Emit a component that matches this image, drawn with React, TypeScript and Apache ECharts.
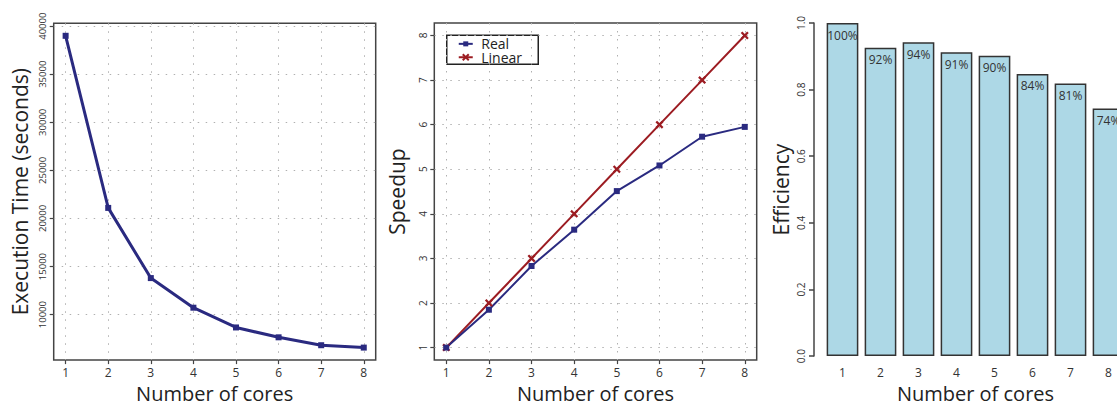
import React, { useEffect, useRef } from "react";
import * as echarts from "echarts";

// ---- data ----
const cores = ["1", "2", "3", "4", "5", "6", "7", "8"];
const coreValues = [1, 2, 3, 4, 5, 6, 7, 8];
const execTime = [39000, 21100, 13800, 10720, 8665, 7640, 6817, 6570];
const speedupReal = [1, 1.85, 2.83, 3.645, 4.51, 5.085, 5.73, 5.95];
const speedupLinear = [1, 2, 3, 4, 5, 6, 7, 8];
const efficiency = [1.0, 0.926, 0.942, 0.912, 0.902, 0.847, 0.818, 0.743];
const efficiencyLabels = ["100%", "92%", "94%", "91%", "90%", "84%", "81%", "74%"];
const timeTicks = [10000, 15000, 20000, 25000, 30000, 35000, 40000];
const speedTicks = [1, 2, 3, 4, 5, 6, 7, 8];

const FONT = "'Open Sans', 'DejaVu Sans', sans-serif";
const NAVY = "#2a2a80";
const RED = "#9c1c22";
const BOX = "#444";
const GRIDLINE = { show: true, lineStyle: { color: "#b0b0b0", width: 1, type: [1.5, 6.5] } };
const X_SYMBOL = "path://M0,2L2,0L5,3L8,0L10,2L7,5L10,8L8,10L5,7L2,10L0,8L3,5Z";

function valueXAxis(gridIndex: number) {
  return {
    type: "value",
    gridIndex,
    min: 0.72,
    max: 8.28,
    axisLine: { show: false },
    axisTick: { show: true, length: 4, customValues: coreValues, lineStyle: { color: BOX, width: 1.2 } },
    axisLabel: {
      customValues: coreValues,
      fontSize: 12,
      color: "#333",
      margin: 6,
      formatter: (v: number) => String(v),
    },
    splitLine: GRIDLINE,
    name: "Number of cores",
    nameLocation: "middle",
    nameGap: 21,
    nameTextStyle: { fontSize: 20, color: "#222" },
  };
}

export default function App() {
  const ref = useRef<HTMLDivElement>(null);
  useEffect(() => {
    if (!ref.current) return;
    const chart = echarts.init(ref.current, null, { renderer: "svg" });
    const option: any = {
      animation: false,
      backgroundColor: "#fff",
      textStyle: { fontFamily: FONT },
      grid: [
        { left: 53.7, top: 23.3, width: 322, height: 341, show: true, borderColor: BOX, borderWidth: 1.5, backgroundColor: "transparent" },
        { left: 434.3, top: 23, width: 322.4, height: 341, show: true, borderColor: BOX, borderWidth: 1.5, backgroundColor: "transparent" },
        { left: 823.5, top: 23, width: 304, height: 338 },
      ],
      xAxis: [
        valueXAxis(0),
        valueXAxis(1),
        {
          type: "category",
          gridIndex: 2,
          data: cores,
          axisLine: { show: false },
          axisTick: { show: false },
          axisLabel: { fontSize: 12, color: "#333", margin: 10 },
          name: "Number of cores",
          nameLocation: "middle",
          nameGap: 25,
          nameTextStyle: { fontSize: 20, color: "#222" },
        },
      ],
      yAxis: [
        {
          type: "value",
          gridIndex: 0,
          min: 5270,
          max: 40300,
          axisLine: { show: false },
          axisTick: { show: true, length: 4, customValues: timeTicks, lineStyle: { color: BOX, width: 1.2 } },
          axisLabel: {
            customValues: timeTicks,
            rotate: 90,
            fontSize: 9.5,
            color: "#333",
            margin: 6,
            formatter: (v: number) => String(v),
          },
          splitLine: GRIDLINE,
          name: "Execution Time (seconds)",
          nameLocation: "middle",
          nameGap: 23,
          nameTextStyle: { fontSize: 21, color: "#222" },
        },
        {
          type: "value",
          gridIndex: 1,
          min: 0.72,
          max: 8.28,
          axisLine: { show: false },
          axisTick: { show: true, length: 4, customValues: speedTicks, lineStyle: { color: BOX, width: 1.2 } },
          axisLabel: {
            customValues: speedTicks,
            rotate: 90,
            fontSize: 10,
            color: "#333",
            margin: 6,
            formatter: (v: number) => String(v),
          },
          splitLine: GRIDLINE,
          name: "Speedup",
          nameLocation: "middle",
          nameGap: 27,
          nameTextStyle: { fontSize: 21, color: "#222" },
        },
        {
          type: "value",
          gridIndex: 2,
          min: 0,
          max: 1,
          interval: 0.2,
          offset: 9.5,
          axisLine: { show: true, lineStyle: { color: BOX, width: 1.5 } },
          axisTick: { show: true, length: 5, lineStyle: { color: BOX, width: 1.5 } },
          axisLabel: {
            rotate: 90,
            fontSize: 10,
            color: "#333",
            margin: 8,
            formatter: (v: number) => v.toFixed(1),
          },
          splitLine: { show: false },
          name: "Efficiency",
          nameLocation: "middle",
          nameGap: 23,
          nameTextStyle: { fontSize: 21, color: "#222" },
        },
      ],
      series: [
        {
          type: "line",
          xAxisIndex: 0,
          yAxisIndex: 0,
          data: coreValues.map((c, i) => [c, execTime[i]]),
          lineStyle: { color: NAVY, width: 3 },
          itemStyle: { color: NAVY },
          symbol: "rect",
          symbolSize: 6,
        },
        {
          type: "line",
          name: "Linear",
          xAxisIndex: 1,
          yAxisIndex: 1,
          data: coreValues.map((c, i) => [c, speedupLinear[i]]),
          lineStyle: { color: RED, width: 2 },
          itemStyle: { color: RED },
          symbol: X_SYMBOL,
          symbolSize: 8,
        },
        {
          type: "line",
          name: "Real",
          xAxisIndex: 1,
          yAxisIndex: 1,
          data: coreValues.map((c, i) => [c, speedupReal[i]]),
          lineStyle: { color: NAVY, width: 2 },
          itemStyle: { color: NAVY },
          symbol: "rect",
          symbolSize: 6,
        },
        {
          type: "bar",
          xAxisIndex: 2,
          yAxisIndex: 2,
          data: efficiency,
          barCategoryGap: "16.6%",
          itemStyle: { color: "#add8e6", borderColor: "#333", borderWidth: 1.5 },
          label: {
            show: true,
            position: "insideTop",
            distance: 6,
            fontSize: 12,
            color: "#333",
            formatter: (p: any) => efficiencyLabels[p.dataIndex],
          },
        },
      ],
      graphic: [
        {
          type: "group",
          left: 446,
          top: 34.5,
          z: 100,
          children: [
            { type: "rect", shape: { x: 0, y: 0, width: 91.5, height: 29 }, style: { fill: "#fff", stroke: "#222", lineWidth: 1.5 } },
            { type: "line", shape: { x1: 12, y1: 8.6, x2: 26, y2: 8.6 }, style: { stroke: NAVY, lineWidth: 2 } },
            { type: "rect", shape: { x: 16.5, y: 6.1, width: 5, height: 5 }, style: { fill: NAVY } },
            { type: "text", style: { x: 34.5, y: 8.6, text: "Real", fontSize: 14, lineHeight: 13, fontFamily: FONT, fill: "#222", verticalAlign: "middle" } },
            { type: "line", shape: { x1: 12, y1: 22, x2: 26, y2: 22 }, style: { stroke: RED, lineWidth: 2 } },
            { type: "line", shape: { x1: 16, y1: 19, x2: 22, y2: 25 }, style: { stroke: RED, lineWidth: 2 } },
            { type: "line", shape: { x1: 22, y1: 19, x2: 16, y2: 25 }, style: { stroke: RED, lineWidth: 2 } },
            { type: "text", style: { x: 34.5, y: 22, text: "Linear", fontSize: 14, lineHeight: 13, fontFamily: FONT, fill: "#222", verticalAlign: "middle" } },
          ],
        },
      ],
    };
    chart.setOption(option);
    return () => chart.dispose();
  }, []);
  return (
    <div style={{ position: "absolute", left: 0, top: 0, width: 1117, height: 408, overflow: "hidden" }}>
      <div ref={ref} style={{ width: 1150, height: 408 }} />
    </div>
  );
}
